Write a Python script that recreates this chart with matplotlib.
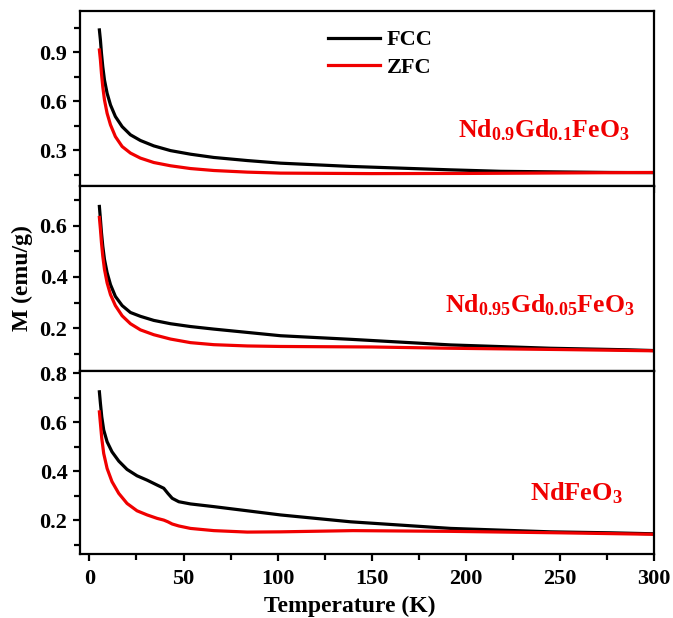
import matplotlib
matplotlib.use("Agg")
import matplotlib.pyplot as plt
import numpy as np

plt.rcParams['font.family'] = ['Liberation Serif', 'DejaVu Serif']
plt.rcParams['font.weight'] = 'bold'
plt.rcParams['mathtext.fontset'] = 'custom'
plt.rcParams['mathtext.rm'] = 'Liberation Serif:bold'
plt.rcParams['mathtext.bf'] = 'Liberation Serif:bold'
plt.rcParams['mathtext.it'] = 'Liberation Serif:bold'

# ---- data ----
# Nd0.9Gd0.1FeO3
T_a_fcc = [5.3, 5.85, 6.4, 7.1, 8.0, 9.4, 11.2, 13.8, 17.4, 21.8, 27.1, 34.2, 43.1, 53.7, 66.1, 83.9,
           101.6, 138.8, 192, 218.6, 277, 300]
M_a_fcc = [1.037, 0.975, 0.894, 0.812, 0.730, 0.649, 0.577, 0.506, 0.444, 0.394, 0.359, 0.326, 0.297,
           0.275, 0.255, 0.236, 0.220, 0.200, 0.179, 0.170, 0.163, 0.162]
T_a_zfc = [5.3, 5.85, 6.4, 7.1, 8.0, 9.4, 11.2, 13.8, 17.4, 21.8, 27.1, 34.2, 43.1, 53.7, 66.1, 83.9,
           101.6, 150, 200, 250, 300]
M_a_zfc = [0.914, 0.853, 0.771, 0.689, 0.608, 0.526, 0.455, 0.383, 0.322, 0.282, 0.251, 0.224, 0.204,
           0.187, 0.175, 0.165, 0.159, 0.156, 0.157, 0.160, 0.163]

# Nd0.95Gd0.05FeO3
T_b_fcc = [5.3, 5.85, 6.4, 7.1, 8.0, 9.4, 11.2, 13.8, 17.4, 21.8, 27.1, 34.2, 43.1, 53.7, 66.1, 83.9,
           101.6, 138.8, 192, 245, 286, 300]
M_b_fcc = [0.676, 0.626, 0.574, 0.521, 0.469, 0.417, 0.370, 0.324, 0.288, 0.261, 0.246, 0.230, 0.217,
           0.206, 0.196, 0.183, 0.170, 0.156, 0.134, 0.121, 0.115, 0.112]
T_b_zfc = [5.3, 5.85, 6.4, 7.1, 8.0, 9.4, 11.2, 13.8, 17.4, 21.8, 27.1, 34.2, 43.1, 53.7, 66.1, 83.9,
           101.6, 150, 192, 250, 300]
M_b_zfc = [0.633, 0.587, 0.535, 0.482, 0.430, 0.377, 0.331, 0.288, 0.248, 0.217, 0.193, 0.174, 0.157,
           0.143, 0.135, 0.130, 0.128, 0.126, 0.121, 0.116, 0.111]

# NdFeO3
T_c_fcc = [5.3, 5.85, 6.56, 7.6, 9.4, 12.0, 15.6, 20.0, 25.3, 30.7, 36.0, 39.5, 41.7, 44.0, 47.5, 53.7,
           66.1, 83.9, 101.6, 138.8, 192, 245, 277, 300]
M_c_fcc = [0.725, 0.678, 0.623, 0.569, 0.521, 0.480, 0.442, 0.408, 0.382, 0.364, 0.344, 0.331, 0.310,
           0.290, 0.276, 0.267, 0.256, 0.239, 0.222, 0.194, 0.167, 0.153, 0.149, 0.145]
T_c_zfc = [5.3, 5.85, 6.56, 7.6, 9.4, 12.0, 15.6, 20.0, 25.3, 30.7, 36.0, 39.5, 41.7, 44.0, 47.5, 53.7,
           66.1, 83.9, 101.6, 140, 192, 250, 300]
M_c_zfc = [0.643, 0.596, 0.535, 0.473, 0.412, 0.358, 0.310, 0.269, 0.239, 0.222, 0.208, 0.201, 0.194,
           0.185, 0.177, 0.167, 0.158, 0.152, 0.153, 0.158, 0.155, 0.149, 0.143]

labels = [r'$\mathbf{Nd_{0.9}Gd_{0.1}FeO_3}$',
          r'$\mathbf{Nd_{0.95}Gd_{0.05}FeO_3}$',
          r'$\mathbf{NdFeO_3}$']

RED = '#f00000'

fig = plt.figure(figsize=(6.73, 6.18), dpi=100)
W, H = 673, 618
L, R = 80, 654
def pos(top, bot):
    return [L / W, (H - bot) / H, (R - L) / W, (bot - top) / H]

ax1 = fig.add_axes(pos(11, 186))
ax2 = fig.add_axes(pos(186, 371))
ax3 = fig.add_axes(pos(371, 554))

lw = 2.3
for ax in (ax1, ax2, ax3):
    for s in ax.spines.values():
        s.set_linewidth(1.6)
    ax.set_xlim(-5, 300)
    ax.set_xticks(np.arange(0, 301, 50))
    ax.set_xticks(np.arange(25, 300, 50), minor=True)
    ax.tick_params(axis='both', which='major', direction='out', length=5, width=1.6,
                   labelsize=16, pad=4)
    ax.tick_params(axis='both', which='minor', direction='out', length=4, width=1.6)
    ax.tick_params(axis='x', which='major', pad=6)

ax1.plot(T_a_fcc, M_a_fcc, color='black', lw=lw, label='FCC', solid_joinstyle='round')
ax1.plot(T_a_zfc, M_a_zfc, color=RED, lw=lw, label='ZFC', solid_joinstyle='round')
ax2.plot(T_b_fcc, M_b_fcc, color='black', lw=lw, solid_joinstyle='round')
ax2.plot(T_b_zfc, M_b_zfc, color=RED, lw=lw, solid_joinstyle='round')
ax3.plot(T_c_fcc, M_c_fcc, color='black', lw=lw, solid_joinstyle='round')
ax3.plot(T_c_zfc, M_c_zfc, color=RED, lw=lw, solid_joinstyle='round')

ax1.set_ylim(0.08, 1.153)
ax1.set_yticks([0.3, 0.6, 0.9])
ax1.set_yticks([0.15, 0.45, 0.75, 1.05], minor=True)
ax1.tick_params(axis='x', which='both', labelbottom=False)

ax2.set_ylim(0.032, 0.756)
ax2.set_yticks([0.2, 0.4, 0.6])
ax2.set_yticks([0.1, 0.3, 0.5, 0.7], minor=True)
ax2.tick_params(axis='x', which='both', bottom=False, labelbottom=False)

ax3.set_ylim(0.0625, 0.81)
ax3.set_yticks([0.2, 0.4, 0.6, 0.8])
ax3.set_yticks([0.1, 0.3, 0.5, 0.7], minor=True)
ax3.set_xlabel('Temperature (K)', fontsize=17, fontweight='bold')
ax3.xaxis.set_label_coords((350 - L) / (R - L), -0.228)

for ax in (ax1, ax2, ax3):
    for t in ax.get_xticklabels() + ax.get_yticklabels():
        t.set_fontweight('bold')

fig.text(22 / W, 1 - 278 / H, 'M (emu/g)', rotation=90, ha='center', va='center',
         fontsize=17, fontweight='bold')

ax1.text(544 / W, 1 - 130 / H, labels[0], transform=fig.transFigure, ha='center',
         va='center', color=RED, fontsize=18.5)
ax2.text(540 / W, 1 - 305 / H, labels[1], transform=fig.transFigure, ha='center',
         va='center', color=RED, fontsize=18.5)
ax3.text(576 / W, 1 - 493 / H, labels[2], transform=fig.transFigure, ha='center',
         va='center', color=RED, fontsize=19)

leg = ax1.legend(loc='upper left', bbox_to_anchor=((328 - L) / (R - L), 0.892),
                 frameon=False, handlelength=2.35, handletextpad=0.3,
                 borderpad=0, borderaxespad=0, labelspacing=0.3,
                 prop={'weight': 'bold', 'size': 16})
for l in leg.get_lines():
    l.set_linewidth(2.3)

fig.savefig('out.png', dpi=100)
